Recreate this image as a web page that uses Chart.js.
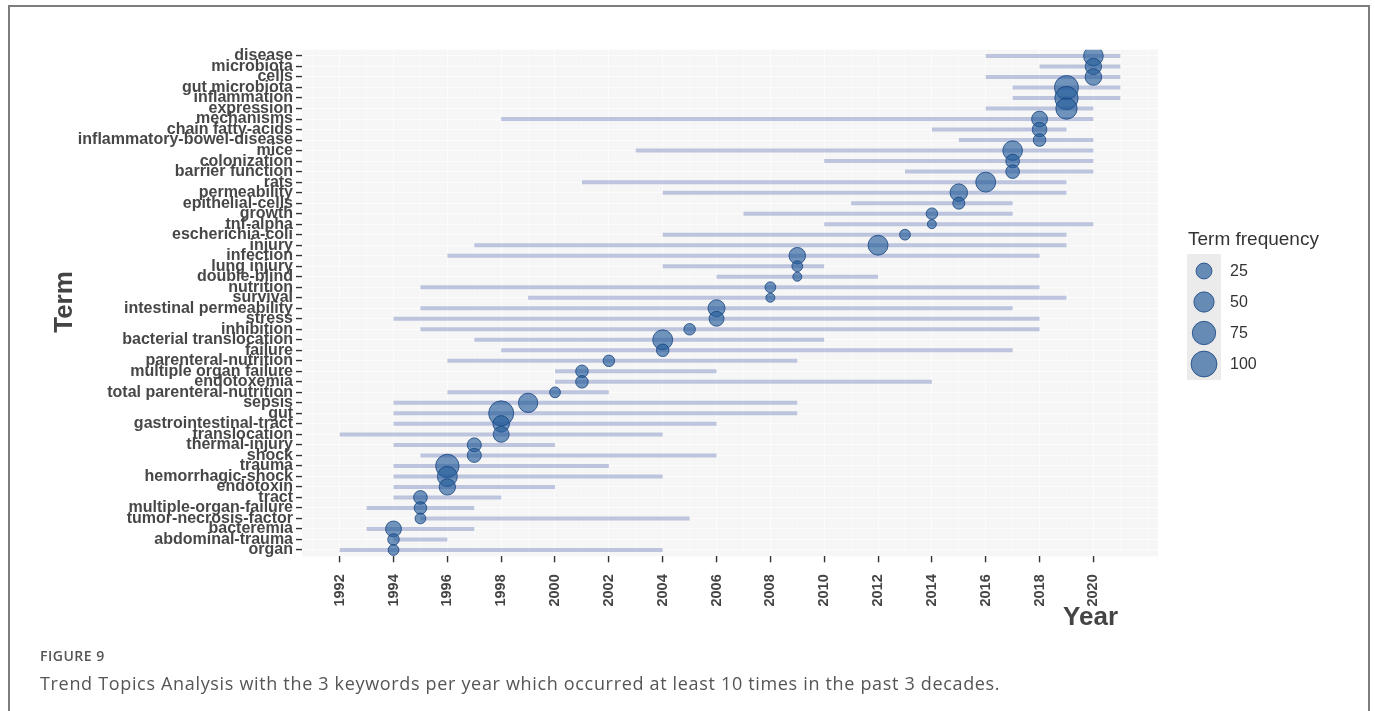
<!DOCTYPE html>
<html>
<head>
<meta charset="utf-8">
<script src="https://cdn.jsdelivr.net/npm/chart.js@4/dist/chart.umd.min.js"></script>
<style>
  html, body { margin: 0; padding: 0; background: #fff; }
  body { width: 1375px; height: 711px; position: relative; overflow: hidden; }
  #frame { position: absolute; left: 8px; top: 5px; width: 1362px; height: 730px;
           border: 2px solid #7d7d7d; border-bottom: none; box-sizing: border-box; }
  #wrap { position: absolute; left: 0; top: 0; width: 1375px; height: 711px; }
  .fig-label { position: absolute; left: 40px; top: 646px; font: 600 14px "Open Sans", sans-serif;
               color: #555; letter-spacing: 0.5px; }
  .fig-cap { position: absolute; left: 40px; top: 671px; font: 400 18px "Open Sans", sans-serif;
             color: #555; letter-spacing: 0.67px; }
</style>
</head>
<body>
<div id="frame"></div>
<div id="wrap"><canvas id="chart" width="1375" height="711"></canvas></div>
<div class="fig-label">FIGURE 9</div>
<div class="fig-cap">Trend Topics Analysis with the 3 keywords per year which occurred at least 10 times in the past 3 decades.</div>
<script>
// Terms, top to bottom
const terms = [
  'disease', 'microbiota', 'cells', 'gut microbiota', 'inflammation', 'expression',
  'mechanisms', 'chain fatty-acids', 'inflammatory-bowel-disease', 'mice', 'colonization',
  'barrier function', 'rats', 'permeability', 'epithelial-cells', 'growth', 'tnf-alpha',
  'escherichia-coli', 'injury', 'infection', 'lung injury', 'double-blind', 'nutrition',
  'survival', 'intestinal permeability', 'stress', 'inhibition', 'bacterial translocation',
  'failure', 'parenteral-nutrition', 'multiple organ failure', 'endotoxemia',
  'total parenteral-nutrition', 'sepsis', 'gut', 'gastrointestinal-tract', 'translocation',
  'thermal-injury', 'shock', 'trauma', 'hemorrhagic-shock', 'endotoxin', 'tract',
  'multiple-organ-failure', 'tumor-necrosis-factor', 'bacteremia', 'abdominal-trauma', 'organ'
];

// Year of first quartile of occurrences (segment start)
const yearQ1 = [
  2016, 2018, 2016, 2017, 2017, 2016,
  1998, 2014, 2015, 2003, 2010,
  2013, 2001, 2004, 2011, 2007, 2010,
  2004, 1997, 1996, 2004, 2006, 1995,
  1999, 1995, 1994, 1995, 1997,
  1998, 1996, 2000, 2000,
  1996, 1994, 1994, 1994, 1992,
  1994, 1995, 1994, 1994, 1994, 1994,
  1993, 1995, 1993, 1994, 1992
];

// Median year (bubble position)
const yearMedian = [
  2020, 2020, 2020, 2019, 2019, 2019,
  2018, 2018, 2018, 2017, 2017,
  2017, 2016, 2015, 2015, 2014, 2014,
  2013, 2012, 2009, 2009, 2009, 2008,
  2008, 2006, 2006, 2005, 2004,
  2004, 2002, 2001, 2001,
  2000, 1999, 1998, 1998, 1998,
  1997, 1997, 1996, 1996, 1996, 1995,
  1995, 1995, 1994, 1994, 1994
];

// Year of third quartile of occurrences (segment end)
const yearQ3 = [
  2021, 2021, 2021, 2021, 2021, 2020,
  2020, 2019, 2020, 2020, 2020,
  2020, 2019, 2019, 2017, 2017, 2020,
  2019, 2019, 2018, 2010, 2012, 2018,
  2019, 2017, 2018, 2018, 2010,
  2017, 2009, 2006, 2014,
  2002, 2009, 2009, 2006, 2004,
  2000, 2006, 2002, 2004, 2000, 1998,
  1997, 2005, 1997, 1996, 2004
];

// Term frequency
const termFreq = [
  46, 27, 28, 81, 75, 58,
  25, 20, 14, 46, 17,
  17, 48, 33, 13, 12, 10,
  11, 48, 28, 11, 10, 11,
  10, 30, 21, 12, 48,
  14, 12, 14, 14,
  11, 44, 91, 28, 25,
  18, 18, 75, 48, 27, 17,
  14, 11, 25, 12, 11
];

const yearTicks = [1992, 1994, 1996, 1998, 2000, 2002, 2004, 2006, 2008, 2010, 2012, 2014, 2016, 2018, 2020];
const legendBreaks = [25, 50, 75, 100];

const FONT = '"Liberation Sans", Arial, Helvetica, sans-serif';
const BUBBLE_FILL = 'rgba(34, 90, 154, 0.64)';
const BUBBLE_EDGE = 'rgba(24, 68, 128, 0.8)';
const SEGMENT = 'rgba(150, 162, 205, 0.6)';
const PANEL_BG = '#f6f6f6';
const GRID = '#fcfcfc';

// Bubble radius grows with the square root of frequency (area scaling)
function bubbleRadius(f) {
  return 4.5 + 0.89 * Math.sqrt(Math.max(f - 10, 0));
}

// Gridlines every year; labelled ticks every other year
const gridYears = [];
for (let y = 1991; y <= 2022; y++) gridYears.push(y);

const segmentSets = terms.map((t, i) => ({
  type: 'line',
  label: t,
  data: [{ x: yearQ1[i], y: i }, { x: yearQ3[i], y: i }],
  borderColor: SEGMENT,
  borderWidth: 4,
  borderCapStyle: 'butt',
  pointRadius: 0,
  fill: false,
  order: 2
}));

const bubbleSet = {
  type: 'bubble',
  label: 'Term frequency',
  data: terms.map((t, i) => ({ x: yearMedian[i], y: i })),
  backgroundColor: BUBBLE_FILL,
  borderColor: BUBBLE_EDGE,
  borderWidth: 1,
  radius: ctx => bubbleRadius(termFreq[ctx.dataIndex]),
  order: 1
};

const decor = {
  id: 'decor',
  beforeDraw(chart) {
    const { ctx, chartArea: a } = chart;
    ctx.save();
    ctx.fillStyle = PANEL_BG;
    ctx.fillRect(a.left, a.top, a.right - a.left, a.bottom - a.top);
    ctx.restore();
  },
  afterDraw(chart) {
    const ctx = chart.ctx;
    ctx.save();
    // axis titles
    ctx.fillStyle = '#444';
    ctx.font = `bold 26px ${FONT}`;
    ctx.textBaseline = 'alphabetic';
    ctx.textAlign = 'right';
    ctx.fillText('Year', 1118, 625);
    ctx.save();
    ctx.translate(72, 302);
    ctx.rotate(-Math.PI / 2);
    ctx.textAlign = 'center';
    ctx.fillText('Term', 0, 0);
    ctx.restore();

    // size legend
    ctx.textAlign = 'left';
    ctx.fillStyle = '#333';
    ctx.font = `19px ${FONT}`;
    ctx.fillText('Term frequency', 1188, 245);
    ctx.fillStyle = '#ebebeb';
    ctx.fillRect(1187, 254, 34, 126);
    legendBreaks.forEach((b, k) => {
      const cy = 271 + k * 31;
      ctx.beginPath();
      ctx.arc(1204, cy, bubbleRadius(b), 0, Math.PI * 2);
      ctx.fillStyle = 'rgba(34, 90, 154, 0.66)';
      ctx.fill();
      ctx.lineWidth = 1;
      ctx.strokeStyle = BUBBLE_EDGE;
      ctx.stroke();
      ctx.fillStyle = '#333';
      ctx.font = `16px ${FONT}`;
      ctx.textBaseline = 'middle';
      ctx.fillText(String(b), 1230, cy + 1);
    });
    ctx.restore();
  }
};

new Chart(document.getElementById('chart'), {
  type: 'bubble',
  data: { datasets: [bubbleSet, ...segmentSets] },
  options: {
    responsive: false,
    devicePixelRatio: 1,
    animation: false,
    events: [],
    layout: { autoPadding: false, padding: { top: 49.7, left: 0, right: 217, bottom: 0 } },
    plugins: { legend: { display: false }, tooltip: { enabled: false }, title: { display: false } },
    scales: {
      x: {
        type: 'linear',
        min: 1990.6,
        max: 2022.4,
        afterBuildTicks: s => { s.ticks = gridYears.map(v => ({ value: v })); },
        afterFit: s => { s.height = 711 - 556.3; },
        ticks: {
          autoSkip: false,
          minRotation: 90,
          maxRotation: 90,
          padding: 12,
          color: '#444',
          font: { family: FONT, size: 14.5, weight: 'bold' },
          callback: v => (yearTicks.includes(v) ? String(v) : '')
        },
        grid: {
          color: GRID,
          lineWidth: ctx => (ctx.tick && yearTicks.includes(ctx.tick.value) ? 1.1 : 0.6),
          tickLength: 6,
          tickWidth: 1.4,
          tickColor: ctx => (ctx.tick && yearTicks.includes(ctx.tick.value) ? '#333' : 'rgba(0,0,0,0)')
        },
        border: { display: false }
      },
      y: {
        type: 'linear',
        reverse: true,
        min: -0.6,
        max: 47.6,
        afterBuildTicks: s => { s.ticks = terms.map((t, i) => ({ value: i })); },
        afterFit: s => { s.width = 302; },
        ticks: {
          autoSkip: false,
          padding: 3,
          color: '#474747',
          font: { family: FONT, size: 16, weight: 'bold' },
          callback: v => terms[v]
        },
        grid: {
          color: GRID,
          lineWidth: 1.1,
          tickLength: 6,
          tickWidth: 1.4,
          tickColor: '#333'
        },
        border: { display: false }
      }
    }
  },
  plugins: [decor]
});
</script>
</body>
</html>
